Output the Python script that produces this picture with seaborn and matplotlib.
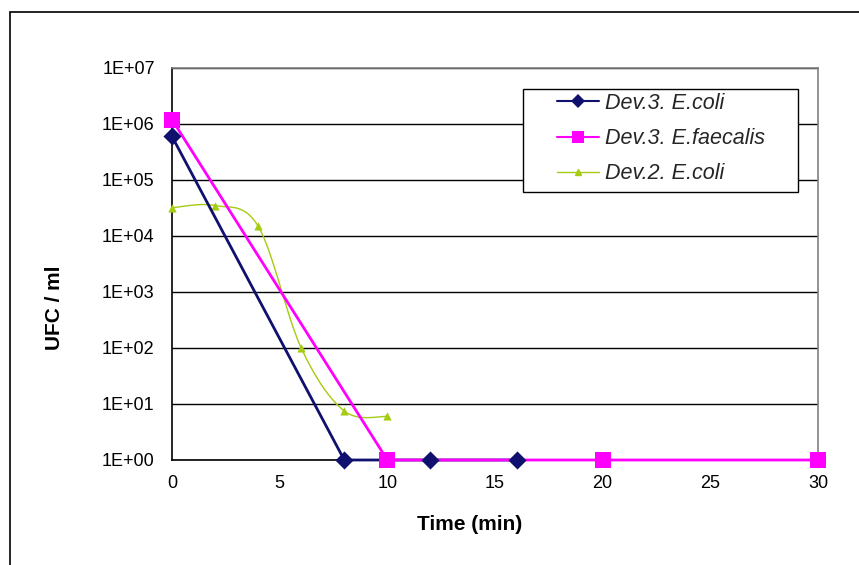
import numpy as np
import pandas as pd
import matplotlib
matplotlib.use("Agg")
import matplotlib.pyplot as plt
import matplotlib.ticker as mticker
from matplotlib.patches import Rectangle
from matplotlib.lines import Line2D
import seaborn as sns

# ---- data ----
time_d3_ecoli = [0, 8, 12, 16]
ufc_d3_ecoli = [6.0e5, 1, 1, 1]
time_d3_faec = [0, 10, 20, 30]
ufc_d3_faec = [1.2e6, 1, 1, 1]
time_d2_ecoli = [0, 2, 4, 6, 8, 10]
ufc_d2_ecoli = [3.2e4, 3.5e4, 1.5e4, 1.0e2, 7.5, 6.0]

labels = ["Dev.3. E.coli", "Dev.3. E.faecalis", "Dev.2. E.coli"]
x_ticks = [0, 5, 10, 15, 20, 25, 30]
y_ticks = [1e0, 1e1, 1e2, 1e3, 1e4, 1e5, 1e6, 1e7]

c_blue = "#10106e"
c_pink = "#ff00ff"
c_green = "#a5cc10"

sns.set_theme(style="white")
plt.rcParams['font.family'] = ['Liberation Sans', 'DejaVu Sans']

W, H = 859, 565
fig = plt.figure(figsize=(W/100, H/100), dpi=100)
AX_L, AX_R, AX_T, AX_B = 172, 818, 68, 460
ax = fig.add_axes([AX_L/W, 1-AX_B/H, (AX_R-AX_L)/W, (AX_B-AX_T)/H])
aw, ah = AX_R-AX_L, AX_B-AX_T

df1 = pd.DataFrame({"t": time_d3_ecoli, "u": ufc_d3_ecoli})
df2 = pd.DataFrame({"t": time_d3_faec, "u": ufc_d3_faec})
df3 = pd.DataFrame({"t": time_d2_ecoli, "u": ufc_d2_ecoli})

# green: smoothed line (Catmull-Rom through the data in x/log-y space, like Excel smoothing)
def smooth(xs, ys, n=30):
    xs = np.asarray(xs, float)
    ly = np.log10(np.asarray(ys, float))
    P = np.column_stack([xs, ly])
    P = np.vstack([P[0], P, P[-1]])
    out = []
    for i in range(1, len(P) - 2):
        p0, p1, p2, p3 = P[i-1], P[i], P[i+1], P[i+2]
        t = np.linspace(0, 1, n)[:, None]
        pts = 0.5 * ((2*p1) + (-p0 + p2)*t + (2*p0 - 5*p1 + 4*p2 - p3)*t**2 + (-p0 + 3*p1 - 3*p2 + p3)*t**3)
        out.append(pts)
    out = np.vstack(out)
    return out[:, 0], 10**out[:, 1]

sx, sy = smooth(time_d2_ecoli, ufc_d2_ecoli)
ax.plot(sx, sy, color=c_green, lw=1.0, zorder=3)
sns.scatterplot(data=df3, x="t", y="u", ax=ax, marker="^", s=28, color=c_green,
                edgecolor=c_green, zorder=4, legend=False)

sns.lineplot(data=df1, x="t", y="u", ax=ax, color=c_blue, lw=2.0, zorder=5)
sns.lineplot(data=df2, x="t", y="u", ax=ax, color=c_pink, lw=2.0, zorder=6)
sns.scatterplot(data=df2, x="t", y="u", ax=ax, marker="s", s=125, color=c_pink,
                edgecolor=c_pink, linewidth=0, zorder=7, legend=False)
sns.scatterplot(data=df1, x="t", y="u", ax=ax, marker="D", s=85, color=c_blue,
                edgecolor=c_blue, linewidth=0, zorder=8, legend=False)

ax.set_yscale("log")
ax.set_ylim(1e0, 1e7)
ax.set_xlim(0, 30)
ax.set_xticks(x_ticks)
ax.set_yticks(y_ticks)
ax.yaxis.set_minor_locator(mticker.NullLocator())
ax.yaxis.set_major_formatter(mticker.FuncFormatter(lambda v, p: "1E+%02d" % int(round(np.log10(v)))))
ax.xaxis.set_major_formatter(mticker.FuncFormatter(lambda v, p: "%d" % v))
for c in ax.collections:
    c.set_clip_on(False)
for l in ax.lines:
    l.set_clip_on(False)

ax.grid(axis="y", color="black", lw=1.0)
ax.set_axisbelow(True)
for s in ["left", "bottom"]:
    ax.spines[s].set_color("black")
    ax.spines[s].set_linewidth(1.2)
    ax.spines[s].set_zorder(2)
ax.spines["right"].set_color("#808080")
ax.spines["top"].set_color("#808080")
ax.spines["right"].set_linewidth(1.2)
ax.spines["top"].set_linewidth(1.2)

ax.tick_params(axis="both", direction="inout", length=9, width=1, color="black",
               labelsize=13, labelcolor="black")
ax.tick_params(axis="y", pad=8)
ax.tick_params(axis="x", pad=6)

ax.set_xlabel("Time (min)", fontsize=15, fontweight="bold", color="black", va="center")
ax.xaxis.set_label_coords((470-AX_L)/aw, -(524-AX_B)/ah)
ax.set_ylabel("UFC / ml", fontsize=15, fontweight="bold", color="black", va="center")
ax.yaxis.set_label_coords((54-AX_L)/aw, (AX_B-308)/ah)

# legend
FS = 15.5
handles = [
    Line2D([], [], color=c_blue, lw=1.5, marker="D", ms=7, markeredgewidth=0),
    Line2D([], [], color=c_pink, lw=1.5, marker="s", ms=9, markeredgewidth=0),
    Line2D([], [], color=c_green, lw=1.0, marker="^", ms=4),
]
leg = ax.legend(handles, labels, loc="upper left",
                bbox_to_anchor=((557-AX_L)/aw, 1-(93-AX_T)/ah),
                frameon=False, borderpad=0, borderaxespad=0,
                labelspacing=0.66, handlelength=1.95, handletextpad=0.3,
                prop={"style": "italic", "size": FS})
leg.set_zorder(11)
ax.add_patch(Rectangle(((523-AX_L)/aw, (AX_B-192)/ah), (798-523)/aw, (192-89)/ah,
                       transform=ax.transAxes, facecolor="white", edgecolor="black",
                       lw=1.0, zorder=10, clip_on=False))

# outer chart frame (only top and left visible in the crop)
fig.patches.append(Rectangle((10/W, -0.5), 1.5, 1-12/H + 0.5, transform=fig.transFigure,
                             fill=False, edgecolor="black", lw=1.2, clip_on=False))

fig.savefig("out.png", dpi=100)
